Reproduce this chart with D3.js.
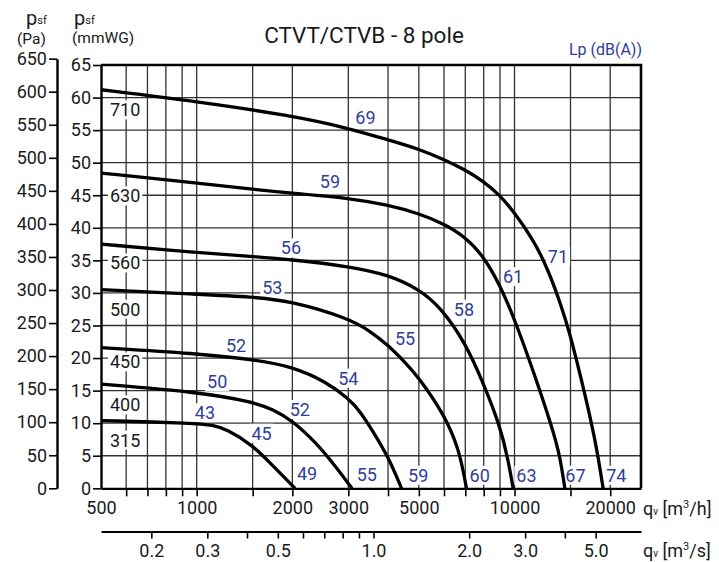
<!DOCTYPE html>
<html><head><meta charset="utf-8">
<script src="https://cdn.jsdelivr.net/npm/d3@7"></script>
<style>
body{margin:0;background:#fff}
svg{display:block}
text{font-family:Roboto,"DejaVu Sans",sans-serif}
</style>
</head><body>
<svg id="c" width="719" height="562"></svg>
<script>
// ---- data (q in m3/h, p in mmWG) ----
const q710 = [500, 1000, 2000, 3000, 4000, 5000, 6000, 7000, 8000, 9000, 10000, 11450, 12700, 14000, 15000, 16000, 16900, 18100, 19000];
const p710 = [61.2, 59.4, 57.2, 55.3, 53.5, 52.1, 50.5, 48.9, 47.1, 45.0, 42.3, 38.2, 33.8, 28.2, 23.4, 17.9, 13.1, 6.5, 0];
const q630 = [500, 1000, 1500, 2000, 3000, 4000, 5000, 6000, 7000, 8000, 9000, 10000, 11500, 13200, 13900, 14400];
const p630 = [48.4, 46.9, 45.9, 45.3, 44.6, 43.5, 42.2, 40.6, 38.6, 35.6, 31.2, 26.0, 17.8, 9.0, 4.9, 0];
const q560 = [500, 1000, 1500, 2000, 3000, 4000, 5000, 5830, 7000, 8000, 9000, 9540, 9900];
const p560 = [37.5, 36.2, 35.6, 35.1, 34.1, 32.8, 30.6, 27.9, 22.4, 16.0, 9.6, 4.5, 0];
const q500 = [500, 1000, 1500, 2000, 3000, 3500, 4000, 4575, 5000, 6000, 6700, 7060];
const p500 = [30.5, 29.8, 29.4, 28.7, 26.1, 24.2, 22.0, 19.1, 17.0, 11.4, 6.0, 0];
const q450 = [500, 1000, 1500, 2000, 2565, 3000, 3260, 3590, 4000, 4410];
const p450 = [21.6, 20.7, 19.8, 18.7, 16.3, 13.8, 11.9, 8.7, 4.9, 0];
const q400 = [500, 1000, 1500, 1740, 2000, 2385, 2690, 3080];
const p400 = [16.0, 14.8, 13.3, 12.1, 10.4, 6.9, 3.8, 0];
const q315 = [500, 1000, 1120, 1240, 1500, 1740, 2040];
const p315 = [10.4, 10.0, 9.7, 9.1, 6.65, 3.4, 0];

const sizeNames = ["710", "630", "560", "500", "450", "400", "315"];
const sizeLabelQ = [600, 600, 600, 600, 600, 600, 600];
const sizeLabelP = [58.1, 44.9, 34.6, 27.5, 19.4, 12.8, 7.4];

const soundText = ["69","71","74","59","61","67","56","58","63","53","55","60","52","54","59","50","52","55","43","45","49"];
const soundQ = [3395, 13700, 20900, 2625, 9900, 15550, 1980, 6930, 10900, 1730, 4525, 7770, 1330, 3000, 4975, 1160, 2110, 3430, 1062, 1600, 2225];
const soundP = [56.9, 35.6, 2.0, 47.1, 32.5, 2.0, 36.9, 27.5, 2.0, 30.9, 23.0, 2.0, 21.9, 16.9, 2.0, 16.4, 12.1, 2.1, 11.6, 8.45, 2.2];

const gridQ = [600, 700, 800, 900, 1000, 1500, 2000, 3000, 4000, 5000, 6000, 7000, 8000, 9000, 10000, 15000, 20000];
const labelQ = [500, 1000, 2000, 3000, 5000, 10000, 20000];
const gridP = [5, 10, 15, 20, 25, 30, 35, 40, 45, 50, 55, 60];
const tickP = d3.range(0, 66, 5);
const tickPa = d3.range(0, 651, 50);
const tickS = [0.2, 0.3, 0.4, 0.5, 0.6, 0.7, 0.8, 0.9, 1, 2, 3, 4, 5];
const labelS = [0.2, 0.3, 0.5, 1, 2, 3, 5];

// ---- layout ----
const L = 101, R = 641, T = 65, B = 488.3;
const svg = d3.select("#c");
const x = d3.scaleLog().domain([500, 25000]).range([L, R]);
const y = d3.scaleLinear().domain([0, 65]).range([B, T]);
const yPa = d3.scaleLinear().domain([0, 650]).range([B, y(650 / 9.80665) + 2]);
const xS = d3.scaleLog().domain([500 / 3600, 25000 / 3600]).range([L, R]);
const blue = "#2f3e98";
const ink = "#1a1a1a";

// grid
const g = svg.append("g");
g.selectAll(".gv").data(gridQ).join("line")
  .attr("x1", d => x(d)).attr("x2", d => x(d)).attr("y1", T).attr("y2", B)
  .attr("stroke", "#333").attr("stroke-width", 1.3);
g.selectAll(".gh").data(gridP).join("line")
  .attr("x1", L).attr("x2", R).attr("y1", d => y(d)).attr("y2", d => y(d))
  .attr("stroke", "#333").attr("stroke-width", 1.3);

// labels with white background
function haloText(parent, tx, ty, str, color, size) {
  const gg = parent.append("g");
  const t = gg.append("text").attr("x", tx).attr("y", ty).attr("text-anchor", "middle")
    .attr("dy", "0.36em").attr("font-size", size).attr("fill", color).text(str);
  const bb = t.node().getBBox();
  gg.insert("rect", "text").attr("x", bb.x - 2).attr("y", bb.y + 1).attr("width", bb.width + 4)
    .attr("height", bb.height - 2).attr("fill", "#fff");
}
const lab = svg.append("g");
sizeNames.forEach((s, i) => haloText(lab, x(sizeLabelQ[i]) - 1, y(sizeLabelP[i]), s, ink, 18));
soundText.forEach((s, i) => haloText(lab, x(soundQ[i]), y(soundP[i]), s, blue, 18));

// curves
const curves = [[q710, p710], [q630, p630], [q560, p560], [q500, p500], [q450, p450], [q400, p400], [q315, p315]];
const line = d3.line().x(d => x(d[0])).y(d => y(d[1])).curve(d3.curveBasis);
svg.append("g").selectAll("path").data(curves).join("path")
  .attr("d", c => line(c[0].map((q, i) => [q, c[1][i]])))
  .attr("fill", "none").attr("stroke", "#000").attr("stroke-width", 3.3)
  .attr("stroke-linejoin", "round");

// frame top/right
svg.append("path").attr("d", `M${L},${T}H${R}V${B}`).attr("fill", "none")
  .attr("stroke", "#000").attr("stroke-width", 2.6);

function styleAxis(sel, sw) {
  sel.selectAll("path.domain").attr("stroke", "#000").attr("stroke-width", sw);
  sel.selectAll(".tick line").attr("stroke", "#000").attr("stroke-width", 1.6);
  sel.selectAll(".tick text").attr("font-size", 18).attr("fill", ink)
    .attr("font-family", "Roboto, sans-serif");
}

// bottom axis m3/h
const ax = svg.append("g").attr("transform", `translate(0,${B})`)
  .call(d3.axisBottom(x).tickValues([500].concat(gridQ)).tickSize(8).tickSizeOuter(0)
    .tickPadding(5).tickFormat(d => labelQ.includes(d) ? String(d) : ""));
styleAxis(ax, 2.2);
ax.selectAll(".tick").filter(d => d === 500).select("line").remove();

// second axis m3/s
const ax2 = svg.append("g").attr("transform", `translate(0,531.5)`)
  .call(d3.axisBottom(xS).tickValues(tickS).tickSize(7).tickSizeOuter(0).tickPadding(6)
    .tickFormat(d => labelS.includes(d) ? d3.format(".1f")(d) : ""));
styleAxis(ax2, 2.2);

// left mmWG axis
const ay = svg.append("g").attr("transform", `translate(${L},0)`)
  .call(d3.axisLeft(y).tickValues(tickP).tickSize(8).tickSizeOuter(0).tickPadding(2));
styleAxis(ay, 2.4);

// Pa axis
const ap = svg.append("g").attr("transform", `translate(57,0)`)
  .call(d3.axisLeft(yPa).tickValues(tickPa).tickSize(8).tickSizeOuter(0).tickPadding(2));
styleAxis(ap, 2.4);

// titles
svg.append("text").attr("x", 364).attr("y", 43).attr("text-anchor", "middle")
  .attr("font-size", 22.5).attr("fill", ink).text("CTVT/CTVB - 8 pole");
svg.append("text").attr("x", 642).attr("y", 55).attr("text-anchor", "end")
  .attr("font-size", 16).attr("fill", blue).text("Lp (dB(A))");

function pLabel(px) {
  const t = svg.append("text").attr("x", px).attr("y", 25).attr("fill", ink);
  t.append("tspan").attr("font-size", 20).text("p");
  t.append("tspan").attr("font-size", 11).attr("dy", -1).text("sf");
}
pLabel(26); pLabel(74);
svg.append("text").attr("x", 17).attr("y", 44).attr("font-size", 15.5).attr("fill", ink).text("(Pa)");
svg.append("text").attr("x", 72).attr("y", 43).attr("font-size", 15.5).attr("fill", ink).text("(mmWG)");

function qLabel(py, unit) {
  const t = svg.append("text").attr("x", 643).attr("y", py).attr("font-size", 18).attr("fill", ink);
  t.append("tspan").text("q");
  t.append("tspan").attr("font-size", 10).text("v");
  t.append("tspan").text(" [m");
  t.append("tspan").attr("font-size", 11).attr("dy", -7).text("3");
  t.append("tspan").attr("dy", 7).text(unit + "]");
}
qLabel(515, "/h");
qLabel(557, "/s");
</script>
</body></html>
